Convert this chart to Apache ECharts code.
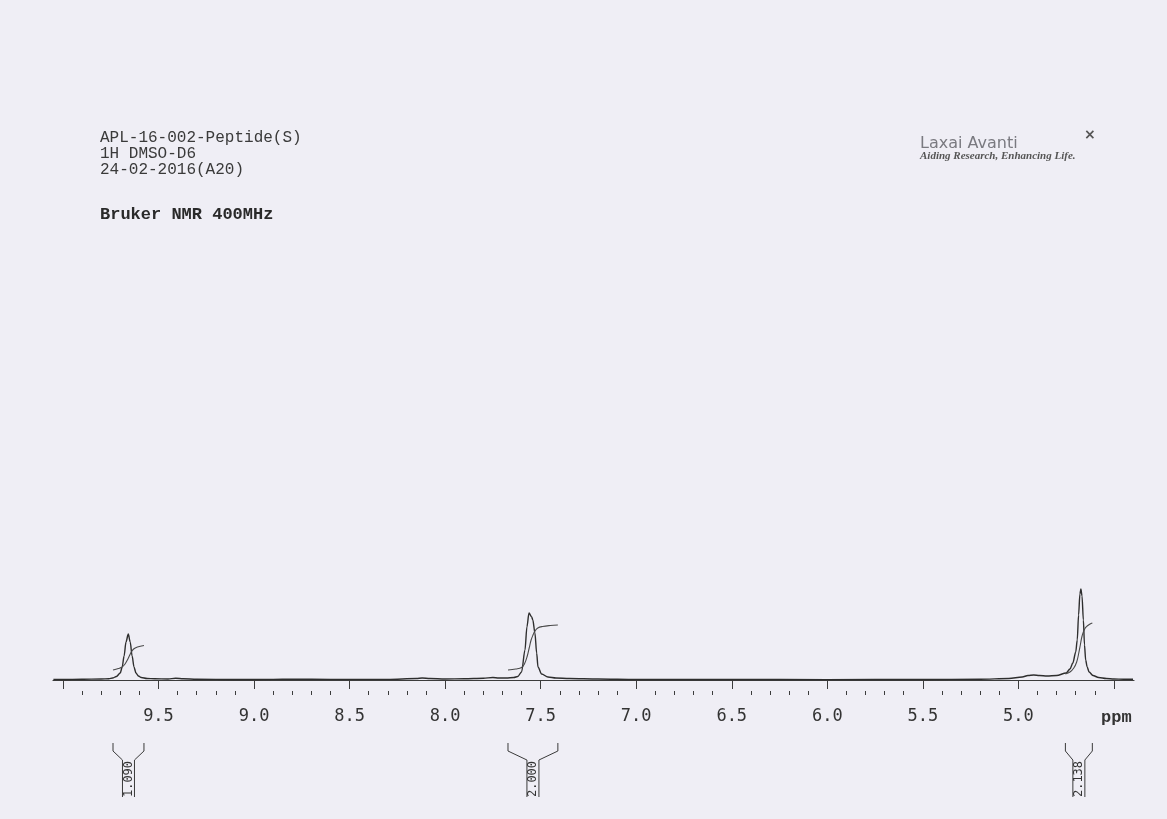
<!DOCTYPE html>
<html>
<head>
<meta charset="utf-8">
<script src="https://cdn.jsdelivr.net/npm/echarts@6/dist/echarts.min.js"></script>
<style>
  html, body { margin: 0; padding: 0; background: #efeef5; }
  #main { width: 1167px; height: 819px; }
</style>
</head>
<body>
<div id="main"></div>
<script>
// spectrum: [ppm, height above baseline]
var spectrum = [
    [10.05, 0.5], [10.0, 0.5], [9.9, 0.7], [9.8, 1.0], [9.76, 1.2], [9.74, 2],
    [9.72, 3.5], [9.70, 7], [9.69, 13], [9.68, 24], [9.67, 38], [9.658, 46],
    [9.648, 38], [9.638, 24], [9.628, 13], [9.618, 7], [9.605, 4], [9.59, 2.5],
    [9.56, 1.5], [9.52, 1.2], [9.45, 1], [9.41, 1.8], [9.37, 1.2], [9.3, 0.7],
    [9.1, 0.5], [8.9, 0.6], [8.8, 0.8], [8.6, 0.6], [8.3, 0.6], [8.15, 1.5],
    [8.12, 2], [8.08, 1.5], [8.0, 1], [7.9, 1.2], [7.8, 1.7], [7.75, 2.5],
    [7.72, 2], [7.68, 2], [7.64, 2.5], [7.62, 3.5], [7.60, 8], [7.582, 30],
    [7.572, 53], [7.561, 67], [7.547, 63], [7.541, 60], [7.530, 47], [7.521, 27],
    [7.514, 13], [7.495, 6], [7.462, 3], [7.42, 2], [7.35, 1.5], [7.2, 1],
    [7.0, 0.5], [6.5, 0.5], [6.0, 0.4], [5.5, 0.5], [5.2, 0.8], [5.05, 1.5],
    [4.98, 3], [4.95, 4.5], [4.92, 5], [4.89, 4.5], [4.85, 4], [4.80, 4.5],
    [4.75, 7], [4.73, 11], [4.715, 17], [4.70, 28], [4.692, 40], [4.685, 65],
    [4.678, 86], [4.673, 91], [4.667, 84], [4.660, 60], [4.654, 35], [4.648, 20],
    [4.64, 13], [4.63, 8], [4.61, 4.5], [4.58, 2.5], [4.54, 1.5], [4.5, 1],
    [4.45, 0.8], [4.40, 0.7]
];

// integral curves
var integral1 = [
    [9.738, 10], [9.71, 11.5], [9.69, 13], [9.675, 16], [9.66, 21],
    [9.645, 27], [9.63, 31], [9.61, 33], [9.576, 34.5]
];
var integral2 = [
    [7.671, 10], [7.63, 11], [7.60, 12.5], [7.585, 16], [7.57, 24], [7.56, 32],
    [7.55, 40], [7.54, 45], [7.53, 49], [7.515, 52], [7.49, 53.5], [7.45, 54.5],
    [7.41, 55]
];
var integral3 = [
    [4.754, 6], [4.73, 8], [4.71, 12], [4.695, 18], [4.685, 26], [4.675, 36],
    [4.668, 43], [4.66, 48], [4.65, 52], [4.64, 54], [4.625, 56], [4.613, 57]
];

// integration regions: [from ppm, to ppm, value]
var integrations = [
    [9.738, 9.576, 1.090],
    [7.671, 7.410, 2.000],
    [4.754, 4.613, 2.138]
];

var majorTicks = [10.0, 9.5, 9.0, 8.5, 8.0, 7.5, 7.0, 6.5, 6.0, 5.5, 5.0, 4.5];
var tickLabels = [9.5, 9.0, 8.5, 8.0, 7.5, 7.0, 6.5, 6.0, 5.5, 5.0];
var minorTicks = [];
for (var i = 0; i < majorTicks.length - 1; i++) {
    for (var k = 1; k < 5; k++) {
        minorTicks.push(Math.round((majorTicks[i] - k * 0.1) * 10) / 10);
    }
}

var myChart = echarts.init(document.getElementById('main'));

var ink = '#2e2e2e';

option = {
    backgroundColor: '#efeef5',
    animation: false,
    title: [
        {
            text: 'APL-16-002-Peptide(S)\n1H DMSO-D6\n24-02-2016(A20)',
            left: 100, top: 130, padding: 0,
            textStyle: {fontFamily: 'Liberation Mono', fontSize: 16, lineHeight: 16, fontWeight: 'normal', color: '#3a3a3a'}
        },
        {
            text: 'Bruker NMR 400MHz',
            left: 100, top: 206, padding: 0,
            textStyle: {fontFamily: 'Liberation Mono', fontSize: 17, lineHeight: 18, fontWeight: 'bold', color: '#2a2a2a'}
        },
        {
            text: 'Laxai Avanti',
            left: 920, top: 136, padding: 0,
            textStyle: {fontFamily: 'DejaVu Sans', fontSize: 16, lineHeight: 16, fontWeight: 'normal', color: '#7a7a80'}
        },
        {
            text: '×',
            left: 1084, top: 128, padding: 0,
            textStyle: {fontFamily: 'DejaVu Sans', fontSize: 14, fontWeight: 'bold', color: '#555'}
        },
        {
            text: 'Aiding Research, Enhancing Life.',
            left: 920, top: 151, padding: 0,
            textStyle: {fontFamily: 'Liberation Serif', fontSize: 11, fontStyle: 'italic', fontWeight: 'bold', color: '#555'}
        }
    ],
    grid: {left: 53, right: 33, top: 540, bottom: 128},
    xAxis: [
        {
            type: 'value',
            position: 'bottom',
            inverse: true,
            min: 4.395,
            max: 10.052,
            splitLine: {show: false},
            axisLine: {lineStyle: {color: '#3c3c3c', width: 1.2}},
            axisTick: {customValues: majorTicks, length: 9, lineStyle: {color: '#3c3c3c'}},
            axisLabel: {
                customValues: tickLabels,
                margin: 17,
                fontFamily: 'DejaVu Sans Mono',
                fontSize: 17,
                color: '#333',
                formatter: function (v) {
                    return v.toFixed(1);
                }
            }
        },
        {
            type: 'value',
            position: 'bottom',
            inverse: true,
            min: 4.395,
            max: 10.052,
            splitLine: {show: false},
            axisLine: {show: false},
            axisTick: {customValues: minorTicks, length: 4, lineStyle: {color: '#3c3c3c'}},
            axisLabel: {show: false}
        }
    ],
    yAxis: {
        type: 'value',
        min: -11,
        max: 140,
        show: false
    },
    graphic: [
        {
            type: 'text',
            left: 1101, top: 709,
            style: {text: 'ppm', font: 'bold 17px "Liberation Mono"', fill: '#333'}
        }
    ],
    series: [
        {
            name: 'spectrum',
            type: 'line',
            data: spectrum,
            showSymbol: false,
            smooth: 0.3,
            smoothMonotone: 'x',
            lineStyle: {color: ink, width: 1.4},
            silent: true
        },
        {
            name: 'int1', type: 'line', data: integral1, showSymbol: false, smooth: 0.4,
            lineStyle: {color: '#4a4a4a', width: 1.1}, silent: true
        },
        {
            name: 'int2', type: 'line', data: integral2, showSymbol: false, smooth: 0.4,
            lineStyle: {color: '#4a4a4a', width: 1.1}, silent: true
        },
        {
            name: 'int3', type: 'line', data: integral3, showSymbol: false, smooth: 0.4,
            lineStyle: {color: '#4a4a4a', width: 1.1}, silent: true
        },
        {
            name: 'brackets',
            type: 'custom',
            clip: false,
            silent: true,
            data: integrations,
            renderItem: function (params, api) {
                var a = api.coord([api.value(0), 0]);
                var b = api.coord([api.value(1), 0]);
                var axisY = params.coordSys.y + params.coordSys.height;
                var x1 = a[0], x2 = b[0];
                var mid = (x1 + x2) / 2;
                var top = axisY + 52, sh = axisY + 60, inner = axisY + 69, bot = axisY + 106;
                var style = {stroke: '#3a3a3a', lineWidth: 1, fill: null};
                return {
                    type: 'group',
                    children: [
                        {type: 'polyline', shape: {points: [[x1, top], [x1, sh], [mid - 6, inner], [mid - 6, bot]]}, style: style},
                        {type: 'polyline', shape: {points: [[x2, top], [x2, sh], [mid + 6, inner], [mid + 6, bot]]}, style: style},
                        {
                            type: 'text',
                            x: mid, y: axisY + 88,
                            rotation: Math.PI / 2,
                            style: {
                                text: api.value(2).toFixed(3),
                                font: '12px "DejaVu Sans Mono"',
                                fill: '#333',
                                align: 'center',
                                verticalAlign: 'middle'
                            }
                        }
                    ]
                };
            }
        }
    ]
};

myChart.setOption(option);
</script>
</body>
</html>
